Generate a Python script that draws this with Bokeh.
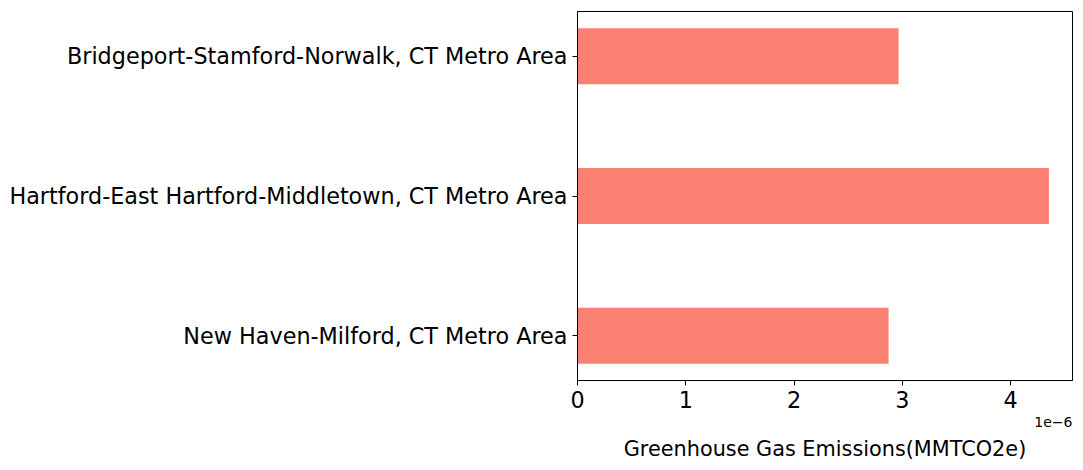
from bokeh.plotting import figure
from bokeh.models import Range1d, FixedTicker, CustomJSTickFormatter, Title
from bokeh.embed import file_html
from bokeh.resources import INLINE

# Data (bottom to top)
metros = [
    "New Haven-Milford, CT Metro Area",
    "Hartford-East Hartford-Middletown, CT Metro Area",
    "Bridgeport-Stamford-Norwalk, CT Metro Area",
]
emissions = [2.873e-6, 4.354e-6, 2.965e-6]
x_ticks = [0, 1e-6, 2e-6, 3e-6, 4e-6]
x_label = "Greenhouse Gas Emissions(MMTCO2e)"
offset_text = "1e\u22126"

positions = list(range(len(metros)))
xmax = max(emissions) * 1.05

p = figure(width=1083, height=470, output_backend="svg", toolbar_location=None,
           x_range=Range1d(0, xmax), y_range=Range1d(-0.32, len(metros) - 1 + 0.32),
           min_border_left=577, min_border_right=11, min_border_top=11, min_border_bottom=90)

p.hbar(y=positions, right=emissions, left=0, height=0.4, color="#FA8072", line_color=None)

p.xgrid.visible = False
p.ygrid.visible = False
p.outline_line_color = "black"
p.outline_line_width = 1
p.background_fill_color = "white"
p.border_fill_color = "white"

font = "DejaVu Sans"
for ax in (p.xaxis[0], p.yaxis[0]):
    ax.axis_line_color = "black"
    ax.major_tick_line_color = "black"
    ax.major_tick_out = 5
    ax.major_tick_in = 0
    ax.minor_tick_line_color = None
    ax.major_label_text_font = font
    ax.major_label_text_font_size = "22.3px"
    ax.major_label_text_color = "black"
    ax.major_label_standoff = 5

p.xaxis.ticker = FixedTicker(ticks=x_ticks)
p.xaxis.formatter = CustomJSTickFormatter(code="return (tick*1e6).toFixed(0);")

p.yaxis.ticker = FixedTicker(ticks=positions)
p.yaxis.major_label_overrides = {i: m for i, m in zip(positions, metros)}

p.add_layout(Title(text=offset_text, align="right", text_font=font,
                   text_font_size="14px", text_font_style="normal",
                   text_color="black", standoff=8, offset=0), "below")
p.add_layout(Title(text=x_label, align="center", text_font=font,
                   text_font_size="20.8px", text_font_style="normal",
                   text_color="black", standoff=8), "below")

open("out.html", "w").write(file_html(p, INLINE))
